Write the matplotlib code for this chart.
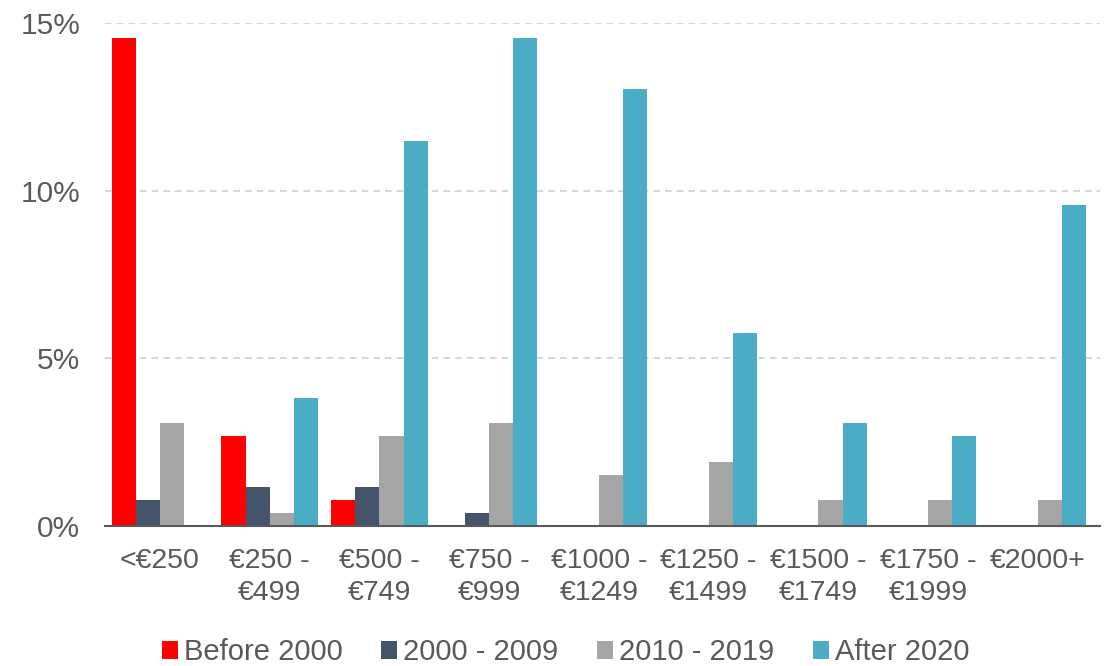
import numpy as np
import matplotlib
matplotlib.use("Agg")
import matplotlib.pyplot as plt
from matplotlib.ticker import FuncFormatter

plt.rcParams['font.family'] = ['Liberation Sans', 'DejaVu Sans']

price_bands = ["<€250", "€250 -\n€499", "€500 -\n€749", "€750 -\n€999", "€1000 -\n€1249",
               "€1250 -\n€1499", "€1500 -\n€1749", "€1750 -\n€1999", "€2000+"]
series_names = ["Before 2000", "2000 - 2009", "2010 - 2019", "After 2020"]

before_2000 = [14.56, 2.68, 0.77, 0, 0, 0, 0, 0, 0]
y2000_2009 = [0.77, 1.15, 1.15, 0.38, 0, 0, 0, 0, 0]
y2010_2019 = [3.07, 0.38, 2.68, 3.07, 1.53, 1.92, 0.77, 0.77, 0.77]
after_2020 = [0, 3.83, 11.49, 14.56, 13.03, 5.75, 3.07, 2.68, 9.58]

colors = ["#FF0000", "#44546A", "#A5A5A5", "#4BACC6"]
text_col = "#595959"

fig = plt.figure(figsize=(11.07, 6.66), dpi=100)
ax = fig.add_axes([0.095, 0.2102, 0.899, 0.7553])

x = np.arange(len(price_bands))
w = 0.22
for i, (vals, name) in enumerate(zip([before_2000, y2000_2009, y2010_2019, after_2020], series_names)):
    ax.bar(x + (i - 1.5) * w, vals, width=w, color=colors[i], label=name, zorder=3)

ax.set_xlim(-0.5, len(price_bands) - 0.43)
ax.set_ylim(0, 15)
ax.set_yticks([0, 5, 10, 15])
ax.yaxis.set_major_formatter(FuncFormatter(lambda v, p: f"{v:.0f}%"))
ax.grid(axis='y', color="#D0D0D0", linestyle=(0, (4, 3)), linewidth=1.2, zorder=0)

for s in ["top", "right", "left"]:
    ax.spines[s].set_visible(False)
ax.spines["bottom"].set_color("#595959")
ax.spines["bottom"].set_linewidth(1.5)
ax.spines["bottom"].set_zorder(4)

ax.set_xticks(x)
ax.set_xticklabels(price_bands, linespacing=1.3)
ax.tick_params(axis='x', length=0, labelsize=20.5, labelcolor=text_col, pad=16)
ax.tick_params(axis='y', length=0, labelsize=21.5, labelcolor=text_col, pad=18)

leg = fig.legend(loc="lower center", bbox_to_anchor=(0.511, -0.027), ncol=4, frameon=False,
                 fontsize=21, handlelength=0.55, handleheight=0.55, handletextpad=0.2,
                 columnspacing=1.33, borderaxespad=0.2)
for t in leg.get_texts():
    t.set_color(text_col)

fig.savefig("out.png", dpi=100)
